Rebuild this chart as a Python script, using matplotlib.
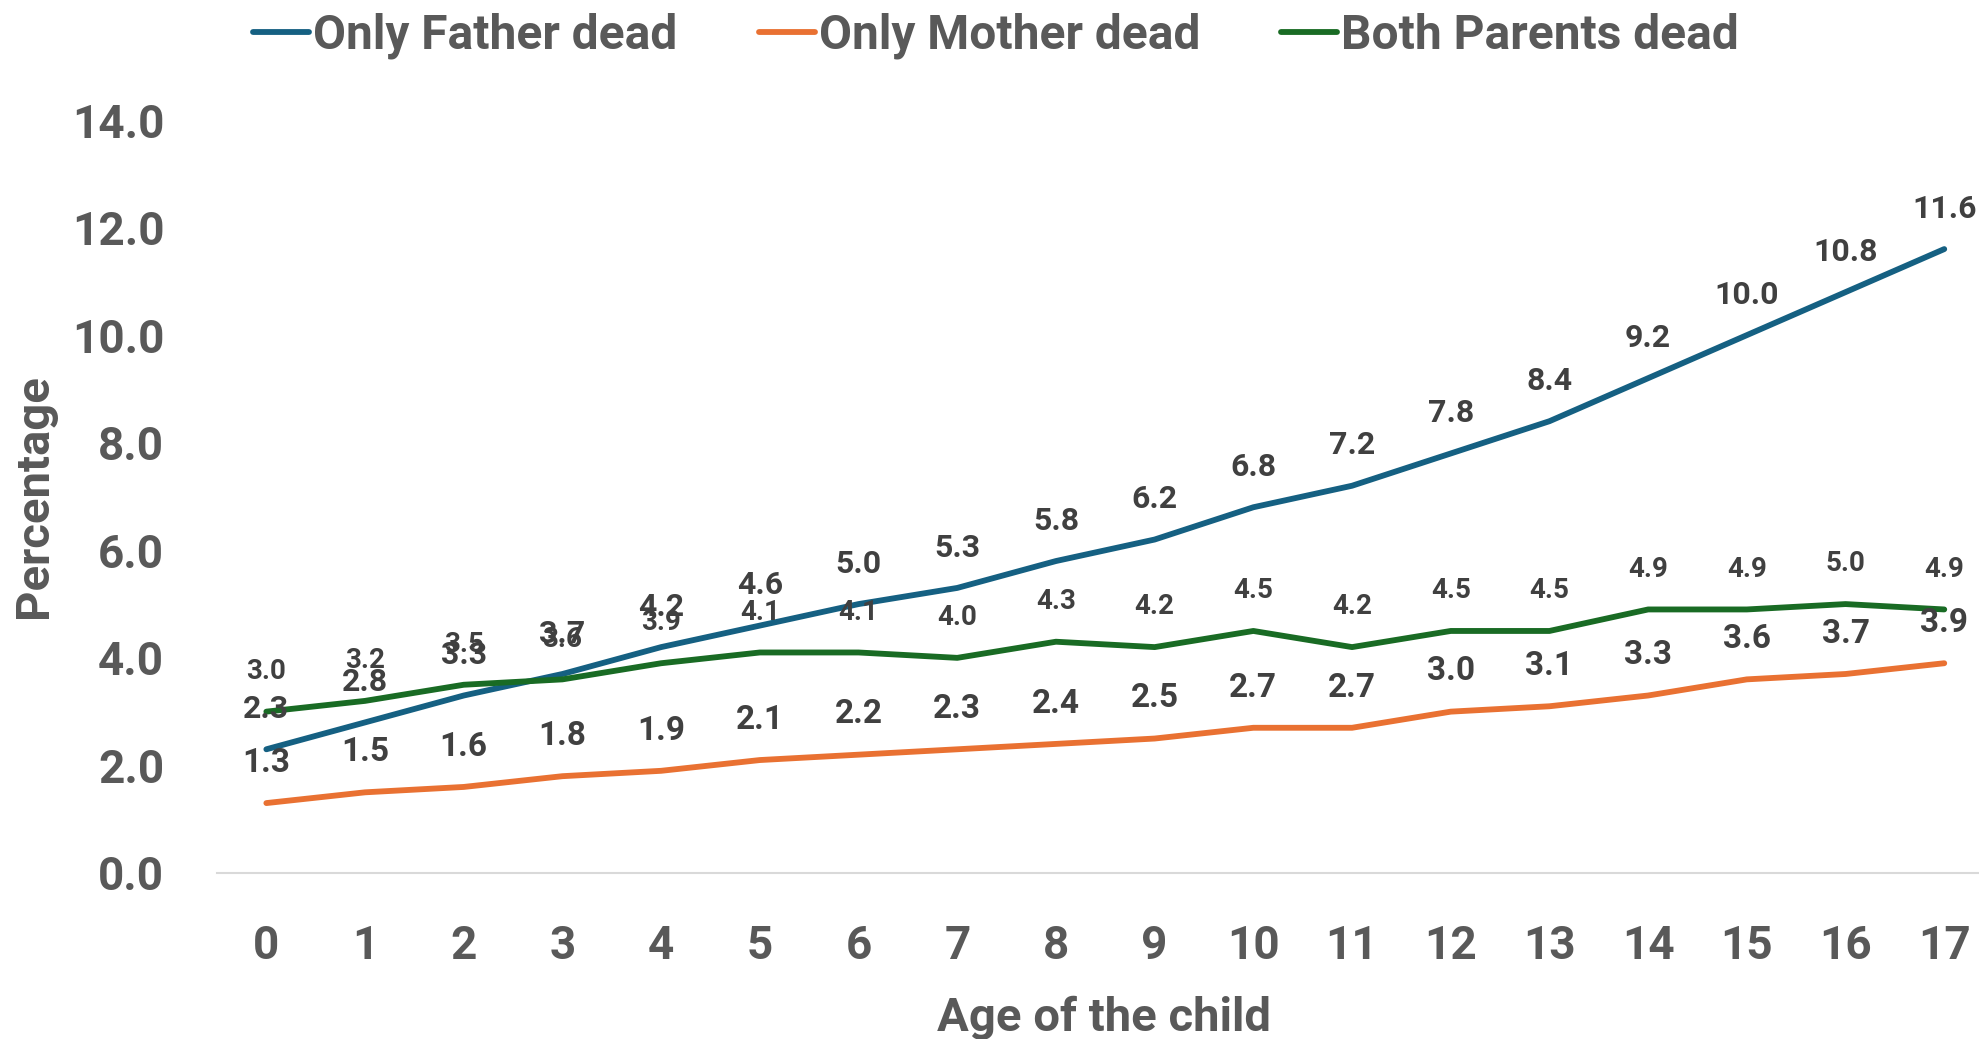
import matplotlib
matplotlib.use("Agg")
import matplotlib.pyplot as plt
from matplotlib.lines import Line2D

ages = list(range(18))
father = [2.3, 2.8, 3.3, 3.7, 4.2, 4.6, 5.0, 5.3, 5.8, 6.2, 6.8, 7.2, 7.8, 8.4, 9.2, 10.0, 10.8, 11.6]
mother = [1.3, 1.5, 1.6, 1.8, 1.9, 2.1, 2.2, 2.3, 2.4, 2.5, 2.7, 2.7, 3.0, 3.1, 3.3, 3.6, 3.7, 3.9]
both = [3.0, 3.2, 3.5, 3.6, 3.9, 4.1, 4.1, 4.0, 4.3, 4.2, 4.5, 4.2, 4.5, 4.5, 4.9, 4.9, 5.0, 4.9]
series_names = ["Only Father dead", "Only Mother dead", "Both Parents dead"]
yticks = [0, 2, 4, 6, 8, 10, 12, 14]

plt.rcParams['font.family'] = ['Roboto', 'DejaVu Sans']
plt.rcParams['font.weight'] = 'bold'

W, H = 1979, 1039
fig = plt.figure(figsize=(W / 100, H / 100), dpi=100)
ax = fig.add_axes([217 / W, (H - 873) / H, (W - 217) / W, 753 / H])

cols = ["#156082", "#E97132", "#196B24"]
lw = 4.2
data = [father, mother, both]
lab_sizes = [23, 24, 20]
for vals, c, fs in zip(data, cols, lab_sizes):
    ax.plot(ages, vals, color=c, lw=lw, solid_capstyle='round', solid_joinstyle='round', clip_on=False)
    for x, v in zip(ages, vals):
        ax.annotate(f"{v:.1f}", (x, v), xytext=(0, 29), textcoords='offset points',
                    ha='center', va='center', fontsize=fs, fontweight='bold',
                    color='#404040', annotation_clip=False)

ax.set_xlim(-0.5, -0.5 + 1762 / 98.7)
ax.set_ylim(0, 14)
ax.set_yticks(yticks)
ax.set_yticklabels([f"{t:.1f}" for t in yticks])
ax.set_xticks(ages)
ax.set_xticklabels([str(a) for a in ages])
ax.tick_params(axis='both', length=0, labelsize=33, labelcolor='#595959')
ax.tick_params(axis='x', pad=37)
ax.tick_params(axis='y', pad=38)
for lab in ax.get_xticklabels() + ax.get_yticklabels():
    lab.set_fontweight('bold')
for s in ['top', 'right', 'left']:
    ax.spines[s].set_visible(False)
ax.spines['bottom'].set_color('#D9D9D9')
ax.spines['bottom'].set_linewidth(1.5)

fig.text(34 / W, 1 - 496 / H, "Percentage", rotation=90, ha='center', va='center',
         fontsize=34, fontweight='bold', color='#595959')
fig.text(1104 / W, 1 - 1031 / H, "Age of the child", ha='center', va='baseline',
         fontsize=34, fontweight='bold', color='#595959')

handles = [Line2D([], [], color=c, lw=lw, solid_capstyle='round') for c in cols]
leg = fig.legend(handles, series_names, loc='center', bbox_to_anchor=(996 / W, 1 - 36 / H),
                 ncol=3, frameon=False, fontsize=34.5, handlelength=1.17, handletextpad=0.08,
                 columnspacing=1.7, borderaxespad=0, borderpad=0)
for t in leg.get_texts():
    t.set_color('#595959')
    t.set_fontweight('bold')

fig.savefig("out.png", dpi=100)
